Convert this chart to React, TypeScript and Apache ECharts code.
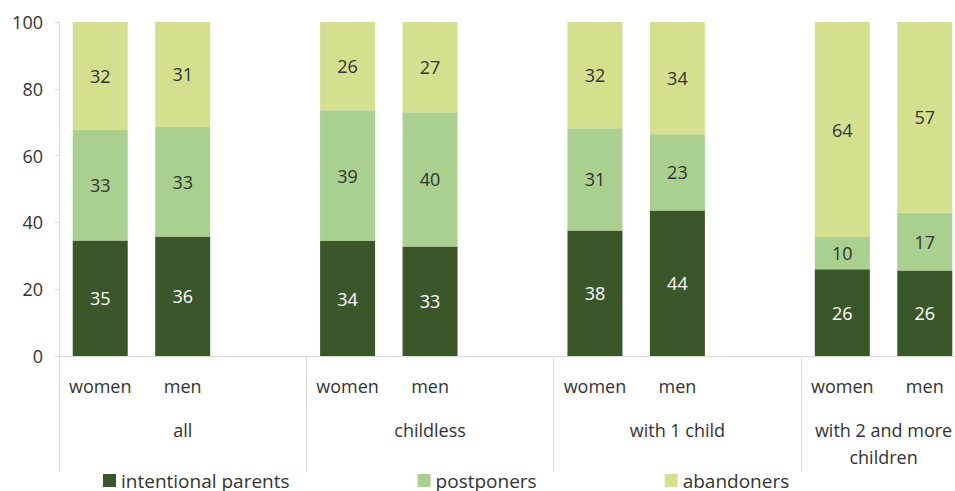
import React, { useEffect, useRef } from "react";
import * as echarts from "echarts";

const categories = ["women", "men", "", "women", "men", "", "women", "men", "", "women", "men"];
const groupLabels = ["all", "childless", "with 1 child", "with 2 and more\nchildren"];
const groupCenters = [1.5, 4.5, 7.5, 10];
const groupBounds = [0, 3, 6, 9];
const yTicks = [0, 20, 40, 60, 80, 100];

const intentionalParents = [34.6, 35.8, null, 34.4, 32.8, null, 37.6, 43.6, null, 26.0, 25.6];
const postponers = [33.2, 32.8, null, 39.2, 40.2, null, 30.6, 22.8, null, 9.6, 17.3];
const abandoners = [32.2, 31.4, null, 26.4, 27.0, null, 31.8, 33.6, null, 64.4, 57.1];

const FONT = "'Open Sans', sans-serif";
const TEXT = "#333333";
const AXIS = "#d9d9d9";

export default function App() {
  const ref = useRef<HTMLDivElement>(null);
  useEffect(() => {
    if (!ref.current) return;
    const chart = echarts.init(ref.current, undefined, { renderer: "svg" });
    const label = (color: string) => ({
      show: true,
      position: "inside",
      color,
      fontSize: 18,
      fontFamily: FONT,
      formatter: (p: any) => String(Math.round(p.value)),
    });
    chart.setOption({
      animation: false,
      textStyle: { fontFamily: FONT },
      grid: { left: 59, top: 22, right: 14, bottom: 135, containLabel: false },
      legend: {
        left: 98,
        top: 466,
        itemWidth: 13,
        itemHeight: 13,
        itemGap: 128,
        itemStyle: { borderWidth: 0 },
        textStyle: { fontSize: 19, color: TEXT, fontFamily: FONT },
        data: [
          { name: "intentional parents", icon: "rect" },
          { name: "postponers", icon: "rect" },
          { name: "abandoners", icon: "rect" },
        ],
      },
      xAxis: [
        {
          type: "category",
          data: categories,
          position: "bottom",
          axisLine: { show: true, lineStyle: { color: AXIS, width: 1 } },
          axisTick: { show: false },
          axisLabel: {
            interval: 0,
            fontSize: 18,
            color: TEXT,
            fontFamily: FONT,
            margin: 16,
            lineHeight: 28,
          },
        },
        {
          type: "value",
          min: 0,
          max: 11,
          position: "bottom",
          axisLine: { show: false },
          splitLine: { show: false },
          axisTick: {
            show: true,
            customValues: groupBounds,
            length: 116,
            lineStyle: { color: AXIS, width: 1 },
          },
          axisLabel: {
            customValues: groupCenters,
            fontSize: 18,
            color: TEXT,
            fontFamily: FONT,
            margin: 60,
            lineHeight: 27,
            formatter: (v: number) => {
              const i = groupCenters.indexOf(v);
              return i >= 0 ? groupLabels[i] : "";
            },
          },
        },
      ],
      yAxis: {
        type: "value",
        min: 0,
        max: 100,
        interval: 20,
        axisLine: { show: true, lineStyle: { color: AXIS, width: 1 } },
        axisTick: { show: true, length: 4, lineStyle: { color: AXIS } },
        splitLine: { show: false },
        axisLabel: {
          fontSize: 18,
          color: TEXT,
          fontFamily: FONT,
          margin: 16,
          formatter: (v: number) => (yTicks.includes(v) ? String(v) : ""),
        },
      },
      series: [
        {
          name: "intentional parents",
          type: "bar",
          stack: "total",
          barWidth: 55,
          data: intentionalParents,
          itemStyle: { color: "#3b5629" },
          label: label("#ffffff"),
        },
        {
          name: "postponers",
          type: "bar",
          stack: "total",
          barWidth: 55,
          data: postponers,
          itemStyle: { color: "#a9d08e" },
          label: label(TEXT),
        },
        {
          name: "abandoners",
          type: "bar",
          stack: "total",
          barWidth: 55,
          data: abandoners,
          itemStyle: { color: "#d5e08f" },
          label: label(TEXT),
        },
      ],
    });
    return () => chart.dispose();
  }, []);
  return (
    <div
      style={{
        position: "fixed",
        left: 0,
        top: 0,
        width: 955,
        height: 491,
        overflow: "hidden",
        background: "#fff",
      }}
    >
      <div ref={ref} style={{ width: 980, height: 491 }} />
    </div>
  );
}
